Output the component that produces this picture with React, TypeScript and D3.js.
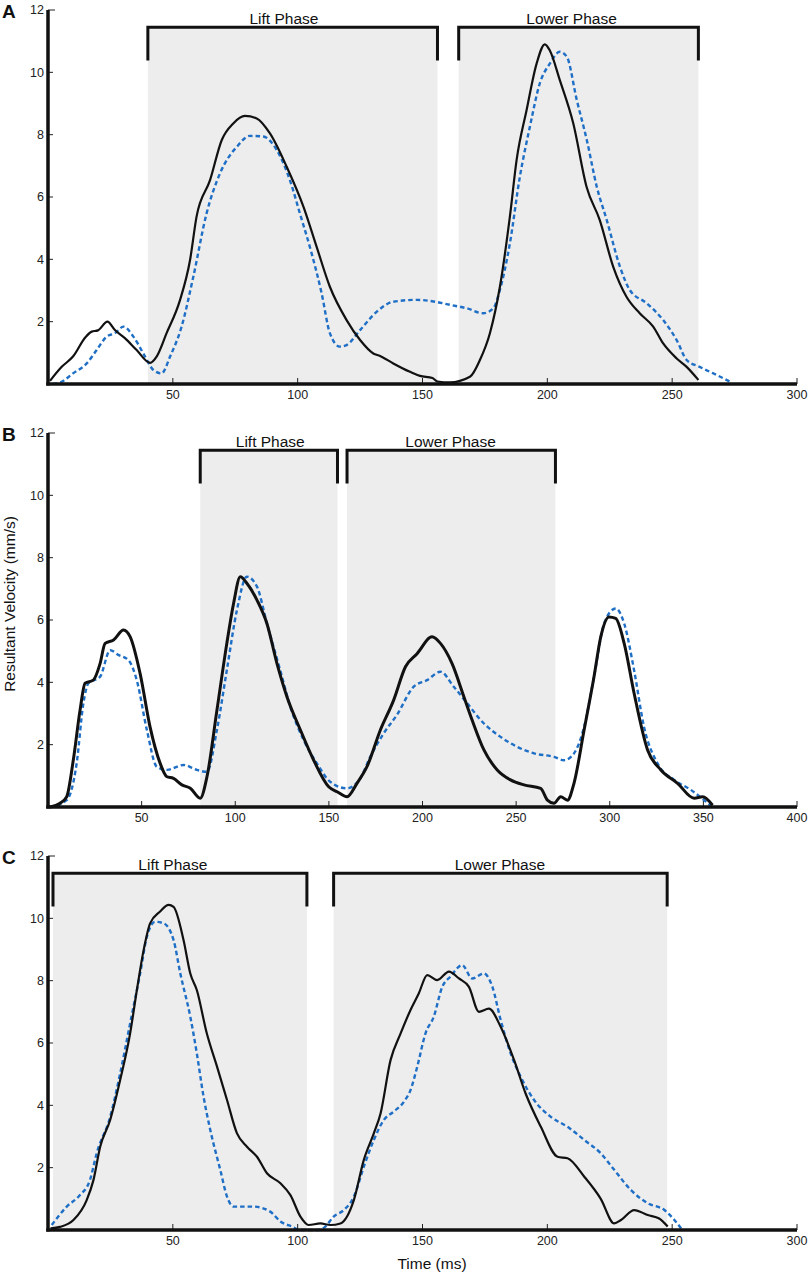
import React from "react";
import * as d3 from "d3";

// ---------- DATA ----------
const Y_TICKS = [2, 4, 6, 8, 10, 12];
const X_TICKS_A = [50, 100, 150, 200, 250, 300];
const X_TICKS_B = [50, 100, 150, 200, 250, 300, 350, 400];
const X_TICKS_C = [50, 100, 150, 200, 250, 300];

const PHASE_NAMES = ["Lift Phase", "Lower Phase"];
const PHASES_A: [number, number][] = [[40, 156], [164.5, 260.5]];
const PHASES_B: [number, number][] = [[81.3, 154.6], [159.7, 271]];
const PHASES_C: [number, number][] = [[2, 103.7], [114.4, 248]];
// label centre (time units) for each phase label
const LABELS_A = [94.5, 209.7];
const LABELS_B = [118.7, 215];
const LABELS_C = [50, 181];

const A_SOLID: [number, number][] = [
  [0.8, 0.1], [5.5, 0.55], [10, 0.88], [15, 1.5], [17.5, 1.68], [20, 1.72], [23.8, 2.0], [26.8, 1.73],
  [30.8, 1.47], [35.5, 1.09], [40.9, 0.68], [43.5, 0.88], [47.5, 1.63], [52.9, 2.7], [56.9, 3.98],
  [59.5, 5.37], [64.9, 6.54], [69.6, 7.83], [74.2, 8.36], [78.9, 8.6], [83.6, 8.52], [88.9, 8.04],
  [95.6, 6.97], [102.3, 5.69], [107.6, 4.4], [112.9, 3.12], [119.6, 2.05], [125, 1.41], [130.3, 0.98],
  [133, 0.9], [138.3, 0.66], [145, 0.39], [149, 0.26], [154, 0.19], [156, 0.08], [161, 0.05], [169, 0.23],
  [173, 0.77], [177, 1.63], [181, 3.12], [185, 5.37], [187.7, 7.19], [191.7, 8.79], [195.7, 10.28],
  [199, 10.9], [201, 10.7], [205, 9.75], [210.4, 8.36], [215.7, 6.33], [221, 5.26], [226.4, 3.76],
  [231.7, 2.8], [237, 2.27], [242.4, 1.84], [246.4, 1.3], [251.8, 0.82], [255.8, 0.55], [260.5, 0.13],
];
const A_DASH: [number, number][] = [
  [2, 0], [5, 0.05], [10, 0.34], [15.5, 0.66], [19.5, 1.09], [23.5, 1.52], [26.8, 1.63], [30.2, 1.84],
  [34.2, 1.52], [38.2, 0.98], [42.2, 0.45], [45.5, 0.34], [48.9, 0.88], [53.5, 1.84], [58.2, 3.44],
  [63.5, 5.47], [68.9, 6.76], [75.6, 7.61], [80.9, 7.96], [86.2, 7.94], [91.6, 7.51], [96.9, 6.54],
  [100.9, 5.47], [105.6, 4.19], [109.6, 2.91], [112.9, 1.63], [116.9, 1.2], [119.6, 1.25], [125, 1.73],
  [131.7, 2.32], [138.3, 2.64], [147.7, 2.7], [155, 2.64], [161, 2.54], [167.7, 2.43], [174.3, 2.27],
  [178.4, 2.43], [181, 3.02], [185, 4.51], [189, 6.65], [193, 8.25], [197, 9.65], [201, 10.28],
  [205, 10.66], [207.8, 10.5], [211.8, 9.11], [215.8, 7.83], [219.8, 6.33], [223.8, 5.26], [229.1, 3.76],
  [233, 3.02], [239.8, 2.59], [246.4, 2.05], [251.8, 1.41], [255.8, 0.77], [261, 0.55], [267.8, 0.29],
  [273.8, 0.05],
];

const B_SOLID: [number, number][] = [
  [1, 0], [6.4, 0.12], [10, 0.33], [13.5, 1.5], [17.1, 3.1], [19.8, 3.97], [24.2, 4.07], [27.8, 4.6],
  [30.5, 5.25], [35, 5.36], [40.3, 5.68], [43.9, 5.46], [49.2, 4.28], [54.5, 2.57], [59.9, 1.4],
  [63.5, 0.97], [67, 0.92], [71.5, 0.71], [76, 0.6], [81.3, 0.28], [84.9, 0.97], [90.2, 3.1], [95.5, 5.25],
  [99.1, 6.53], [102.7, 7.39], [106.2, 7.18], [111.6, 6.64], [116.9, 5.89], [122.3, 4.6], [127.6, 3.54],
  [134.8, 2.47], [141.9, 1.5], [149.9, 0.65], [154.4, 0.49], [159.7, 0.33], [165, 0.76], [170.4, 1.3],
  [177.5, 2.47], [184.6, 3.43], [190.9, 4.5], [197.1, 4.92], [205.1, 5.46], [209.6, 5.25], [215.8, 4.6],
  [222.1, 3.54], [226.5, 2.79], [232.8, 1.83], [239.9, 1.19], [247, 0.87], [254.2, 0.71], [263.1, 0.6],
  [266.7, 0.22], [270.2, 0.12], [273.8, 0.33], [277.4, 0.22], [280.9, 0.76], [286.3, 2.47], [291.6, 4.18],
  [295.2, 5.46], [299.6, 6.1], [303.2, 6.05], [307.7, 5.25], [313, 3.65], [320.2, 1.83], [327.3, 1.19],
  [336.2, 0.76], [345.1, 0.28], [349.6, 0.33], [354.9, 0.06],
];
const B_DASH: [number, number][] = [
  [1, 0], [10, 0.22], [15.3, 1.4], [18.9, 3.33], [21.6, 3.97], [27.8, 4.18], [33.2, 5.03], [37.6, 4.88],
  [43, 4.71], [47.4, 4.07], [52.8, 2.47], [58.1, 1.29], [63.5, 1.19], [72.4, 1.35], [79.5, 1.19],
  [84.9, 1.13], [90.2, 2.47], [95.5, 4.39], [100.9, 6.32], [106.2, 7.39], [111.6, 7.07], [116.9, 5.89],
  [124, 4.39], [129.4, 3.22], [136.5, 2.15], [143.6, 1.4], [150.7, 0.81], [159.6, 0.6], [166.8, 0.92],
  [172.1, 1.61], [179.2, 2.36], [186.3, 2.95], [195.3, 3.86], [202.4, 4.07], [209.6, 4.34], [216.7, 3.86],
  [223.8, 3.33], [232.8, 2.68], [241.7, 2.25], [250.6, 1.93], [259.5, 1.72], [270.2, 1.61], [275.6, 1.5],
  [280.9, 1.72], [286.3, 2.57], [291.6, 4.18], [297, 5.89], [303.2, 6.37], [307.7, 5.89], [313, 4.39],
  [318.3, 2.57], [325.5, 1.4], [334.4, 0.87], [343.3, 0.55], [350.4, 0.22], [354.9, 0],
];

const C_SOLID: [number, number][] = [
  [1, 0.05], [4.8, 0.1], [10.2, 0.32], [15.5, 0.96], [18.2, 1.6], [20.9, 2.67], [24.9, 3.53], [28.9, 4.81],
  [32.9, 6.31], [35.6, 7.7], [38.3, 8.98], [40.9, 9.84], [44.9, 10.22], [48.3, 10.43], [50.3, 10.37],
  [54.3, 9.3], [57, 8.23], [59.6, 7.7], [63.6, 6.31], [67.7, 5.24], [71.7, 4.17], [75.7, 3.1], [79.7, 2.67],
  [83.7, 2.35], [87.7, 1.82], [93.1, 1.5], [97.1, 1.12], [101.1, 0.43], [104.4, 0.16], [109.1, 0.21],
  [113.1, 0.16], [117.1, 0.21], [122.5, 0.96], [126.5, 2.25], [130.5, 3.1], [133.2, 3.74], [137.2, 5.45],
  [141.2, 6.3], [145.2, 7.06], [148.5, 7.59], [151.9, 8.18], [155.9, 8.02], [160.6, 8.29], [164.6, 8.07],
  [168.6, 7.8], [172.6, 7.0], [176.6, 7.1], [181.3, 6.52], [186.7, 5.45], [191.3, 4.38], [197.4, 3.31],
  [204.1, 2.35], [208.1, 2.3], [214.8, 1.71], [221.4, 1.0], [226.8, 0.21], [229.5, 0.32], [234.8, 0.64],
  [240.2, 0.48], [244.8, 0.37], [248.2, 0.11],
];
const C_DASH: [number, number][] = [
  [1.5, 0.16], [7.5, 0.75], [12.8, 1.12], [16.8, 1.6], [19.5, 2.46], [24.9, 3.63], [28.9, 5.02],
  [32.9, 6.63], [36.9, 8.23], [39.6, 9.41], [42.9, 9.89], [46.3, 9.84], [50.3, 9.3], [53, 8.23], [57, 6.84],
  [59.6, 5.67], [62.3, 4.28], [65, 3.21], [69, 1.93], [71.7, 1.07], [74.3, 0.75], [82.3, 0.75], [89, 0.59],
  [93.1, 0.27], [97.7, 0.11], [101, 0], [108, 0], [111.1, 0.11], [114.4, 0.43], [118.5, 0.64], [122.5, 1.07],
  [126.5, 2.03], [130.5, 2.89], [134.5, 3.53], [138.5, 3.8], [142.6, 4.12], [145.2, 4.49], [147.9, 5.24],
  [151.2, 6.31], [154.5, 6.84], [157.9, 7.8], [161.2, 8.13], [165.9, 8.5], [169.9, 8.07], [174.6, 8.23],
  [178, 7.8], [181.3, 6.74], [185.3, 5.67], [189.3, 4.92], [194.7, 4.17], [201.4, 3.63], [208.1, 3.31],
  [214.8, 2.89], [221.4, 2.46], [226.8, 1.93], [233.5, 1.28], [240.2, 0.86], [246.9, 0.64], [250.9, 0.32],
  [253.6, 0.05],
];

// ---------- STYLE ----------
const FONT = "'Liberation Sans', Arial, Helvetica, sans-serif";
const GRAY = "#ededed";
const BLUE = "#1f6fc6";

type PanelProps = {
  letter: string;
  top: number;
  xMax: number;
  xTicks: number[];
  phases: [number, number][];
  labels: number[];
  solid: [number, number][];
  dash: [number, number][];
  solidWidth: number;
};

const LEFT = 48;
const RIGHT = 797;
const PLOT_H = 374;

function Panel({ letter, top, xMax, xTicks, phases, labels, solid, dash, solidWidth }: PanelProps) {
  const x = d3.scaleLinear().domain([0, xMax]).range([LEFT, RIGHT]);
  const y = d3.scaleLinear().domain([0, 12]).range([top + PLOT_H, top]);
  const line = d3
    .line<[number, number]>()
    .x((d) => x(d[0]))
    .y((d) => y(d[1]))
    .curve(d3.curveMonotoneX);
  const base = y(0);
  const bracketTop = y(11.45);
  const legBottom = y(10.38);

  return (
    <g>
      {phases.map((p, i) => (
        <rect
          key={"s" + i}
          x={x(p[0])}
          y={bracketTop}
          width={x(p[1]) - x(p[0])}
          height={base - bracketTop}
          fill={GRAY}
        />
      ))}
      {phases.map((p, i) => (
        <g key={"b" + i}>
          <path
            d={`M${x(p[0])},${legBottom}V${bracketTop}H${x(p[1])}V${legBottom}`}
            fill="none"
            stroke="#111"
            strokeWidth={3}
            strokeLinejoin="miter"
          />
          <text
            x={x(labels[i])}
            y={bracketTop - 3}
            textAnchor="middle"
            fontFamily={FONT}
            fontSize={15.5}
            fill="#111"
          >
            {PHASE_NAMES[i]}
          </text>
        </g>
      ))}
      <path d={line(dash) || ""} fill="none" stroke={BLUE} strokeWidth={2.4} strokeDasharray="4.5,3" />
      <path d={line(solid) || ""} fill="none" stroke="#111" strokeWidth={solidWidth} strokeLinejoin="round" />
      {Y_TICKS.map((t) => (
        <g key={"y" + t}>
          <line x1={LEFT} x2={LEFT + (t === 12 ? 7 : 5)} y1={y(t)} y2={y(t)} stroke="#222" strokeWidth={1} />
          <text
            x={LEFT - 4}
            y={y(t)}
            dy="0.35em"
            textAnchor="end"
            fontFamily={FONT}
            fontSize={12.5}
            fill="#222"
          >
            {t}
          </text>
        </g>
      ))}
      <line x1={LEFT} x2={LEFT} y1={y(12)} y2={base + 1.5} stroke="#111" strokeWidth={3.5} />
      {xTicks.map((t) => (
        <g key={"x" + t}>
          <line x1={x(t)} x2={x(t)} y1={base} y2={base - 6} stroke="#222" strokeWidth={1} />
          <text
            x={x(t)}
            y={base + 15}
            textAnchor="middle"
            fontFamily={FONT}
            fontSize={12.5}
            fill="#222"
          >
            {t}
          </text>
        </g>
      ))}
      <line x1={LEFT - 1.75} x2={RIGHT} y1={base} y2={base} stroke="#111" strokeWidth={3.5} />
      <text x={2} y={top + 8} fontFamily={FONT} fontWeight="bold" fontSize={19} fill="#111">
        {letter}
      </text>
    </g>
  );
}

export default function App() {
  return (
    <svg
      width={809}
      height={1274}
      viewBox="0 0 809 1274"
      style={{ position: "absolute", left: 0, top: 0, background: "#fff" }}
    >
      <rect x={0} y={0} width={809} height={1274} fill="#fff" />
      <Panel letter="A" top={10} xMax={300} xTicks={X_TICKS_A} phases={PHASES_A} labels={LABELS_A} solid={A_SOLID} dash={A_DASH} solidWidth={2.2} />
      <Panel letter="B" top={433} xMax={400} xTicks={X_TICKS_B} phases={PHASES_B} labels={LABELS_B} solid={B_SOLID} dash={B_DASH} solidWidth={3} />
      <Panel letter="C" top={856} xMax={300} xTicks={X_TICKS_C} phases={PHASES_C} labels={LABELS_C} solid={C_SOLID} dash={C_DASH} solidWidth={2.2} />
      <text
        transform="translate(15,604) rotate(-90)"
        textAnchor="middle"
        fontFamily={FONT}
        fontSize={15.5}
        fill="#111"
      >
        Resultant Velocity (mm/s)
      </text>
      <text x={432} y={1269} textAnchor="middle" fontFamily={FONT} fontSize={15.5} fill="#111">
        Time (ms)
      </text>
    </svg>
  );
}
